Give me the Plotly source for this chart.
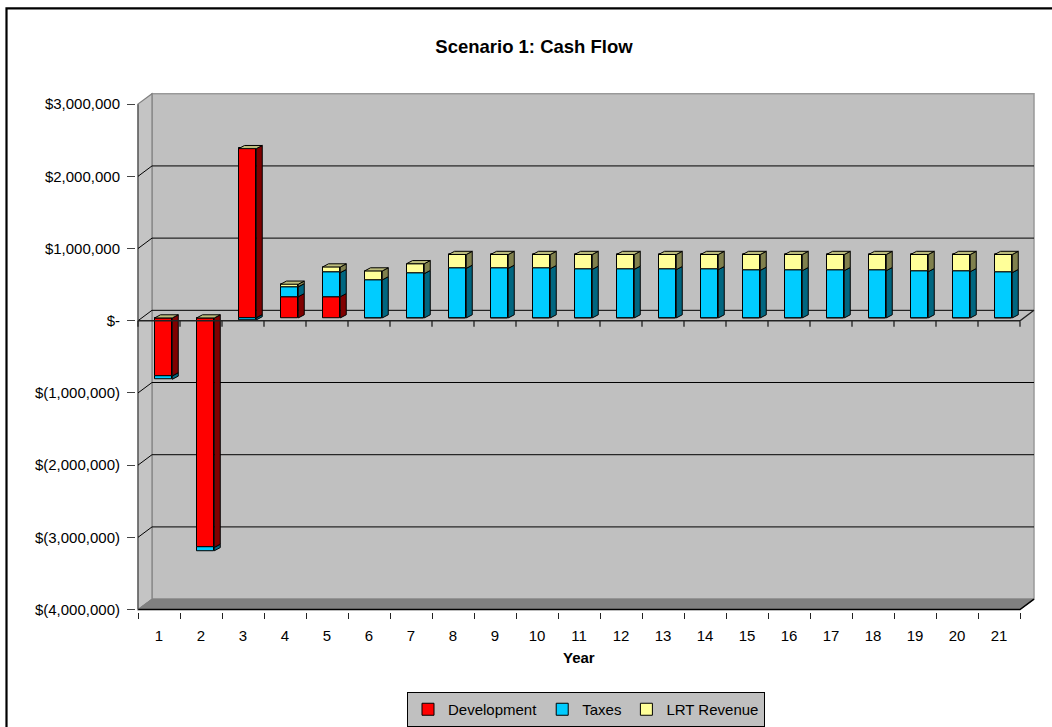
import plotly.graph_objects as go

# ---- data -------------------------------------------------------------
years = list(range(1, 22))
development = [-805000, -3180000, 2345000, 294000, 294000] + [0] * 16
taxes = [-45000, -45000, -27000, 137000, 334000, 527000, 614000, 687000,
         687000, 683000, 673000, 673000, 669000, 669000, 659000, 655000,
         655000, 655000, 641000, 641000, 628000]
lrt_revenue = [0, 0, 0, 36000, 78000, 124000, 137000, 192000, 192000,
               196000, 206000, 206000, 210000, 210000, 220000, 224000,
               224000, 224000, 238000, 238000, 251000]
y_tick_values = [3000000, 2000000, 1000000, 0, -1000000, -2000000,
                 -3000000, -4000000]
y_tick_text = ["$3,000,000", "$2,000,000", "$1,000,000", "$-",
               "$(1,000,000)", "$(2,000,000)", "$(3,000,000)",
               "$(4,000,000)"]

series = [
    ("Development", development, "#FF0000", "#800000"),
    ("Taxes", taxes, "#00CCFF", "#006680"),
    ("LRT Revenue", lrt_revenue, "#FFFF99", "#80804D"),
]
TOP_FACE = "#BDBD7C"

# ---- geometry of the pseudo-3D frame (pixels) -------------------------
W, H = 1052, 727
PX_CAT = 42.0          # pixels per category on the front plane
PX_M = 72.8            # pixels per $1,000,000 on the front plane
FRONT_LEFT = 138.0     # pixel x of category edge 0.5
ZERO_Y = 323.4         # pixel y of $0 on the front plane
DOM_L, DOM_R, DOM_T, DOM_B = 136, 1037, 93, 617

WALL_DX, WALL_DY = 14.0, 10.5      # depth of the whole box
BAR_DX0, BAR_DY0 = 4.4, 2.8        # bar front face inset from front plane
BAR_DDX, BAR_DDY = 6.0, 3.2        # bar depth
BAR_W = 17.7


def ux(px):
    return px / PX_CAT


def uy(px):
    return px / PX_M * 1e6


x_lo, x_hi = 0.5, 0.5 + len(years)
y_lo, y_hi = min(y_tick_values), max(y_tick_values)
wx, wy = ux(WALL_DX), uy(WALL_DY)

fig = go.Figure()

# ---- bars: front faces as Bar traces, sides / tops as filled polygons --
bx0, by0 = ux(BAR_DX0), uy(BAR_DY0)
bdx, bdy = ux(BAR_DDX), uy(BAR_DDY)
bw = ux(BAR_W)

pos_cum = [0.0] * len(years)
neg_cum = [0.0] * len(years)
side_paths = []
for name, vals, color, side_color in series:
    bases = []
    sx, sy = [], []
    for i, v in enumerate(vals):
        if v >= 0:
            b = pos_cum[i]
            pos_cum[i] += v
        else:
            b = neg_cum[i]
            neg_cum[i] += v
        bases.append(b + by0)
        if v != 0:
            lo, hi = sorted([b + by0, b + v + by0])
            xr = years[i] + bx0 + bw / 2
            sx += [xr, xr + bdx, xr + bdx, xr, xr, None]
            sy += [lo, lo + bdy, hi + bdy, hi, lo, None]
    fig.add_trace(go.Bar(
        x=[y + bx0 for y in years], y=vals, base=bases, width=bw,
        name=name, marker=dict(color=color, line=dict(color="black", width=1)),
        hoverinfo="skip",
    ))
    side_paths.append((sx, sy, side_color))

for sx, sy, c in side_paths:
    fig.add_trace(go.Scatter(
        x=sx, y=sy, mode="lines", fill="toself", fillcolor=c,
        line=dict(color="black", width=1), showlegend=False, hoverinfo="skip",
    ))

tx, ty = [], []
for i, yr in enumerate(years):
    top = pos_cum[i] + by0
    xl = yr + bx0 - bw / 2
    xr = yr + bx0 + bw / 2
    tx += [xl, xr, xr + bdx, xl + bdx, xl, None]
    ty += [top, top, top + bdy, top + bdy, top, None]
fig.add_trace(go.Scatter(
    x=tx, y=ty, mode="lines", fill="toself", fillcolor=TOP_FACE,
    line=dict(color="black", width=1), showlegend=False, hoverinfo="skip",
))

# ---- walls, floor and gridlines ----------------------------------------
shapes = []
# back wall
shapes.append(dict(type="rect", xref="x", yref="y", layer="below",
                   x0=x_lo + wx, x1=x_hi + wx, y0=y_lo + wy, y1=y_hi + wy,
                   fillcolor="#C0C0C0", line=dict(color="#999999", width=1.5)))
# left side wall
shapes.append(dict(type="path", xref="x", yref="y", layer="below",
                   path=f"M{x_lo},{y_lo} L{x_lo},{y_hi} L{x_lo + wx},{y_hi + wy} "
                        f"L{x_lo + wx},{y_lo + wy} Z",
                   fillcolor="#C4C4C4", line=dict(color="#808080", width=1.2)))
# floor
shapes.append(dict(type="path", xref="x", yref="y", layer="below",
                   path=f"M{x_lo},{y_lo} L{x_hi},{y_lo} L{x_hi + wx},{y_lo + wy} "
                        f"L{x_lo + wx},{y_lo + wy} Z",
                   fillcolor="#808080", line=dict(color="#808080", width=1)))
shapes.append(dict(type="path", xref="x", yref="y", layer="below",
                   path=f"M{x_lo},{y_lo} L{x_hi},{y_lo} L{x_hi + wx},{y_lo + wy}",
                   line=dict(color="black", width=1.5)))
shapes.append(dict(type="line", xref="x", yref="y", layer="below",
                   x0=x_lo, x1=x_lo, y0=y_lo, y1=y_hi,
                   line=dict(color="#555555", width=1.2)))
# gridlines across side wall and back wall
for v in y_tick_values:
    if v in (y_lo, y_hi):
        continue
    shapes.append(dict(type="path", xref="x", yref="y", layer="below",
                       path=f"M{x_lo},{v} L{x_lo + wx},{v + wy} L{x_hi + wx},{v + wy}",
                       line=dict(color="black", width=1)))
# category axis drawn at $0 on the front plane, with boundary ticks
tick_len = uy(6)
zero_path = f"M{x_lo},0 L{x_hi},0 L{x_hi + wx},{wy}"
for k in range(len(years) + 1):
    xb = x_lo + k
    zero_path += f" M{xb},0 L{xb},{-tick_len}"
shapes.append(dict(type="path", xref="x", yref="y", layer="above",
                   path=zero_path, line=dict(color="#222222", width=1.3)))
# chart border
shapes.append(dict(type="rect", xref="paper", yref="paper", layer="below",
                   x0=6.5 / W, x1=1.05, y0=-0.05, y1=1 - 8.5 / H,
                   line=dict(color="black", width=2.2), fillcolor="rgba(0,0,0,0)"))

font_family = "Liberation Sans, Arial, sans-serif"

fig.update_layout(
    width=W, height=H,
    margin=dict(l=0, r=0, t=0, b=0),
    paper_bgcolor="white", plot_bgcolor="white",
    barmode="overlay", bargap=0,
    shapes=shapes,
    font=dict(family=font_family, size=15, color="black"),
    title=dict(text="<b>Scenario 1: Cash Flow</b>", x=534 / W, y=1 - 47 / H,
               xanchor="center", yanchor="middle",
               font=dict(family=font_family, size=18.5, color="black")),
    xaxis=dict(
        domain=[DOM_L / W, DOM_R / W],
        range=[x_lo - ux(FRONT_LEFT - DOM_L), x_lo + ux(DOM_R - FRONT_LEFT)],
        tickmode="array", tickvals=years, ticktext=[str(y) for y in years],
        ticks="", showgrid=False, zeroline=False, showline=False,
        tickfont=dict(size=15), ticklabelstandoff=13,
        minor=dict(tickmode="array", tickvals=[x_lo + k for k in range(len(years) + 1)],
                   ticks="outside", ticklen=6, tickcolor="#222222", tickwidth=1.3,
                   showgrid=False),
        fixedrange=True,
    ),
    yaxis=dict(
        domain=[1 - DOM_B / H, 1 - DOM_T / H],
        range=[uy(ZERO_Y - DOM_B), uy(ZERO_Y - DOM_T)],
        tickmode="array", tickvals=y_tick_values, ticktext=y_tick_text,
        ticks="outside", ticklen=8, tickcolor="#444444", tickwidth=1.2,
        showgrid=False, zeroline=False, showline=False,
        tickfont=dict(size=15), ticklabelstandoff=4,
        fixedrange=True,
    ),
    legend=dict(orientation="h", x=586 / W, xanchor="center",
                y=1 - 698 / H, yanchor="top",
                bgcolor="#C0C0C0", bordercolor="black", borderwidth=1,
                font=dict(size=15), traceorder="normal",
                itemwidth=30, entrywidth=0),
    annotations=[dict(text="<b>Year</b>", xref="x", yref="paper",
                      x=(x_lo + x_hi) / 2, y=1 - 663 / H, showarrow=False,
                      xanchor="center", yanchor="middle",
                      font=dict(family=font_family, size=15, color="black"))],
)

fig.write_html("out.html")
